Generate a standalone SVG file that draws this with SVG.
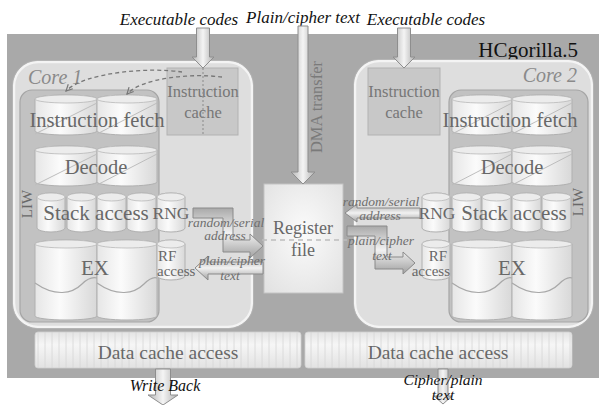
<svg xmlns="http://www.w3.org/2000/svg" width="599" height="405" viewBox="0 0 599 405">
<defs>
<linearGradient id="cyl" x1="0" y1="0" x2="1" y2="0">
<stop offset="0" stop-color="#e6e6e6"/><stop offset="0.4" stop-color="#fbfbfb"/><stop offset="1" stop-color="#d8d8d8"/>
</linearGradient>
<linearGradient id="arH" x1="0" y1="0" x2="0" y2="1">
<stop offset="0" stop-color="#a9a9a9"/><stop offset="0.5" stop-color="#f2f2f2"/><stop offset="1" stop-color="#a0a0a0"/>
</linearGradient>
<linearGradient id="arV" x1="0" y1="0" x2="1" y2="0">
<stop offset="0" stop-color="#b5b5b5"/><stop offset="0.5" stop-color="#f4f4f4"/><stop offset="1" stop-color="#b0b0b0"/>
</linearGradient>
<radialGradient id="reg" cx="0.5" cy="0.45" r="0.7">
<stop offset="0" stop-color="#fbfbfb"/><stop offset="1" stop-color="#e2e2e2"/>
</radialGradient>
<linearGradient id="bar" x1="0" y1="0" x2="0" y2="1">
<stop offset="0" stop-color="#e4e4e4"/><stop offset="0.35" stop-color="#f6f6f6"/><stop offset="1" stop-color="#e2e2e2"/>
</linearGradient>
<pattern id="stripes" width="7" height="10" patternUnits="userSpaceOnUse">
<line x1="3" y1="0" x2="3" y2="10" stroke="#d6d6d6" stroke-width="0.8"/>
</pattern>
<marker id="chev" viewBox="0 0 10 10" refX="9" refY="5" markerWidth="8" markerHeight="8" orient="auto" markerUnits="userSpaceOnUse">
<path d="M1,1 L9,5 L1,9" fill="none" stroke="#777" stroke-width="1.5"/>
</marker>
</defs>
<style>
.core{fill:#dedede;stroke:#f4f4f4;stroke-width:2.5}
.coreo{fill:none;stroke:#b4b4b4;stroke-width:0.8}
.liw{fill:#c2c2c2;stroke:#a5a5a5;stroke-width:1.2}
.icache{fill:#c8c8c8;stroke:#b2b2b2;stroke-width:1}
.cyl{fill:url(#cyl);stroke:#b0b0b0;stroke-width:1}
.cyltop{fill:#ececec;stroke:#b8b8b8;stroke-width:0.8}
.diag{stroke:#bdbdbd;stroke-width:1;fill:none}
.wave{stroke:#a8a8a8;stroke-width:1.2;fill:none}
.bigarrow{fill:url(#arV);stroke:#8e8e8e;stroke-width:1}
.harrow{fill:url(#arH);stroke:#8a8a8a;stroke-width:1}
.t{font-family:"Liberation Serif","Times New Roman",serif;fill:#686868}
.ti{font-family:"Liberation Serif","Times New Roman",serif;font-style:italic;fill:#111}
.lab{font-family:"Liberation Serif","Times New Roman",serif;font-style:italic;fill:#6e6e6e;font-size:13.5px}
.dash{stroke:#777;stroke-width:1.3;stroke-dasharray:4 3;fill:none}
</style>
<rect x="7" y="34" width="592" height="344" fill="#a9a9a9"/>
<text class="ti" x="179" y="25" font-size="17" text-anchor="middle">Executable codes</text>
<text class="ti" x="303" y="23" font-size="17" text-anchor="middle">Plain/cipher text</text>
<text class="ti" x="426" y="25" font-size="17" text-anchor="middle">Executable codes</text>
<text x="578" y="57" font-family="Liberation Serif,serif" font-size="21" fill="#111" text-anchor="end">HCgorilla.5</text>

<g id="core1">
<rect class="core" x="14" y="62" width="238" height="265" rx="24"/>
<rect class="coreo" x="12.5" y="60.5" width="241" height="268" rx="25"/>
<text class="ti" x="28" y="84" font-size="20" style="fill:#8a8a8a">Core 1</text>
<g id="icache1">
<rect class="icache" x="167" y="68" width="71" height="67"/>
<text class="t" x="203" y="97" font-size="16.5" text-anchor="middle" style="fill:#777">Instruction</text>
<text class="t" x="203" y="118" font-size="16.5" text-anchor="middle" style="fill:#777">cache</text>
</g>
<g id="liw1">
<rect class="liw" x="20" y="90" width="139" height="232" rx="12"/>
<text class="t" transform="translate(32,204) rotate(-90)" font-size="15" text-anchor="middle">LIW</text>
</g>
<g id="fetch1">
<path class="cyl" d="M35,99 A31,4 0 0 1 97,99 V131 A31,4 0 0 1 35,131 Z"/>
<path class="cyl" d="M97,99 A30,4 0 0 1 157,99 V131 A30,4 0 0 1 97,131 Z"/>
<ellipse class="cyltop" cx="66" cy="99" rx="31" ry="4"/><ellipse class="cyltop" cx="127" cy="99" rx="30" ry="4"/>
<path class="diag" d="M35,134 L97,103 M97,134 L157,103"/>
<text class="t" x="97" y="127" font-size="20.5" text-anchor="middle">Instruction fetch</text>
</g>
<g id="decode1">
<path class="cyl" d="M35,150 A31,4 0 0 1 97,150 V182 A31,4 0 0 1 35,182 Z"/>
<path class="cyl" d="M97,150 A30,4 0 0 1 157,150 V182 A30,4 0 0 1 97,182 Z"/>
<ellipse class="cyltop" cx="66" cy="150" rx="31" ry="4"/><ellipse class="cyltop" cx="127" cy="150" rx="30" ry="4"/>
<path class="diag" d="M35,185 L97,154 M97,185 L157,154"/>
<text class="t" x="96" y="174" font-size="20.5" text-anchor="middle">Decode</text>
</g>
<g id="stack1">
<path class="cyl" d="M37,197 A14,4 0 0 1 65,197 V228 A14,4 0 0 1 37,228 Z"/>
<path class="cyl" d="M67,197 A14.5,4 0 0 1 96,197 V228 A14.5,4 0 0 1 67,228 Z"/>
<path class="cyl" d="M97,197 A14.5,4 0 0 1 126,197 V228 A14.5,4 0 0 1 97,228 Z"/>
<path class="cyl" d="M127,197 A14.5,4 0 0 1 156,197 V228 A14.5,4 0 0 1 127,228 Z"/>
<ellipse class="cyltop" cx="51" cy="197" rx="14" ry="4"/><ellipse class="cyltop" cx="81.5" cy="197" rx="14.5" ry="4"/>
<ellipse class="cyltop" cx="111.5" cy="197" rx="14.5" ry="4"/><ellipse class="cyltop" cx="141.5" cy="197" rx="14.5" ry="4"/>
<text class="t" x="96" y="220" font-size="21" text-anchor="middle">Stack access</text>
</g>
<g id="ex1">
<path class="cyl" d="M35,244 A31,4 0 0 1 97,244 V316 A31,4 0 0 1 35,316 Z"/>
<path class="cyl" d="M97,244 A30,4 0 0 1 157,244 V316 A30,4 0 0 1 97,316 Z"/>
<ellipse class="cyltop" cx="66" cy="244" rx="31" ry="4"/><ellipse class="cyltop" cx="127" cy="244" rx="30" ry="4"/>
<path class="wave" d="M35,283 C55,297 72,294 82,284 C88,278 93,277 97,278 M97,283 C117,297 134,294 144,284 C150,278 154,277 157,278"/>
<text class="t" x="95" y="275" font-size="21" text-anchor="middle">EX</text>
</g>
<g id="rng1">
<path class="cyl" d="M157,197 A14,4 0 0 1 185,197 V228 A14,4 0 0 1 157,228 Z"/>
<ellipse class="cyltop" cx="171" cy="197" rx="14" ry="4"/>
<text class="t" x="171" y="219" font-size="17.5" text-anchor="middle">RNG</text>
</g>
<g id="rf1">
<path class="cyl" d="M157,244 A14,4 0 0 1 185,244 V276 A14,4 0 0 1 157,276 Z"/>
<ellipse class="cyltop" cx="171" cy="244" rx="14" ry="4"/>
<text class="t" x="158" y="261" font-size="15">RF</text>
<text class="t" x="157" y="276" font-size="15">access</text>
</g>
</g>

<g id="core2">
<rect class="core" x="355" y="61" width="237" height="266" rx="24"/>
<rect class="coreo" x="353.5" y="59.5" width="240" height="269" rx="25"/>
<text class="ti" x="577" y="82" font-size="20" text-anchor="end" style="fill:#8a8a8a">Core 2</text>
<g id="icache2">
<rect class="icache" x="368" y="68" width="72" height="67"/>
<text class="t" x="404" y="97" font-size="16.5" text-anchor="middle" style="fill:#777">Instruction</text>
<text class="t" x="404" y="118" font-size="16.5" text-anchor="middle" style="fill:#777">cache</text>
</g>
<g id="liw2">
<rect class="liw" x="449" y="90" width="139" height="232" rx="12"/>
<text class="t" transform="translate(583,202) rotate(-90)" font-size="15" text-anchor="middle">LIW</text>
</g>
<g id="fetch2">
<path class="cyl" d="M452,99 A30,4 0 0 1 512,99 V131 A30,4 0 0 1 452,131 Z"/>
<path class="cyl" d="M512,99 A30,4 0 0 1 572,99 V131 A30,4 0 0 1 512,131 Z"/>
<ellipse class="cyltop" cx="482" cy="99" rx="30" ry="4"/><ellipse class="cyltop" cx="542" cy="99" rx="30" ry="4"/>
<path class="diag" d="M452,134 L512,103 M512,134 L572,103"/>
<text class="t" x="510" y="127" font-size="20.5" text-anchor="middle">Instruction fetch</text>
</g>
<g id="decode2">
<path class="cyl" d="M452,150 A30,4 0 0 1 512,150 V182 A30,4 0 0 1 452,182 Z"/>
<path class="cyl" d="M512,150 A30,4 0 0 1 572,150 V182 A30,4 0 0 1 512,182 Z"/>
<ellipse class="cyltop" cx="482" cy="150" rx="30" ry="4"/><ellipse class="cyltop" cx="542" cy="150" rx="30" ry="4"/>
<path class="diag" d="M452,185 L512,154 M512,185 L572,154"/>
<text class="t" x="512" y="174" font-size="20.5" text-anchor="middle">Decode</text>
</g>
<g id="stack2">
<path class="cyl" d="M452,197 A14.5,4 0 0 1 481,197 V228 A14.5,4 0 0 1 452,228 Z"/>
<path class="cyl" d="M482,197 A14.5,4 0 0 1 511,197 V228 A14.5,4 0 0 1 482,228 Z"/>
<path class="cyl" d="M512,197 A14.5,4 0 0 1 541,197 V228 A14.5,4 0 0 1 512,228 Z"/>
<path class="cyl" d="M542,197 A14.5,4 0 0 1 571,197 V228 A14.5,4 0 0 1 542,228 Z"/>
<ellipse class="cyltop" cx="466.5" cy="197" rx="14.5" ry="4"/><ellipse class="cyltop" cx="496.5" cy="197" rx="14.5" ry="4"/>
<ellipse class="cyltop" cx="526.5" cy="197" rx="14.5" ry="4"/><ellipse class="cyltop" cx="556.5" cy="197" rx="14.5" ry="4"/>
<text class="t" x="514" y="220" font-size="21" text-anchor="middle">Stack access</text>
</g>
<g id="ex2">
<path class="cyl" d="M452,244 A30,4 0 0 1 512,244 V316 A30,4 0 0 1 452,316 Z"/>
<path class="cyl" d="M512,244 A30,4 0 0 1 572,244 V316 A30,4 0 0 1 512,316 Z"/>
<ellipse class="cyltop" cx="482" cy="244" rx="30" ry="4"/><ellipse class="cyltop" cx="542" cy="244" rx="30" ry="4"/>
<path class="wave" d="M452,283 C472,297 489,294 499,284 C505,278 509,277 512,278 M512,283 C532,297 549,294 559,284 C565,278 569,277 572,278"/>
<text class="t" x="512" y="275" font-size="21" text-anchor="middle">EX</text>
</g>
<g id="rng2">
<path class="cyl" d="M422,197 A14,4 0 0 1 450,197 V228 A14,4 0 0 1 422,228 Z"/>
<ellipse class="cyltop" cx="436" cy="197" rx="14" ry="4"/>
<text class="t" x="437" y="219" font-size="17.5" text-anchor="middle">RNG</text>
</g>
<g id="rf2">
<path class="cyl" d="M422,244 A14,4 0 0 1 450,244 V276 A14,4 0 0 1 422,276 Z"/>
<ellipse class="cyltop" cx="436" cy="244" rx="14" ry="4"/>
<text class="t" x="447" y="261" font-size="15" text-anchor="end">RF</text>
<text class="t" x="450" y="276" font-size="15" text-anchor="end">access</text>
</g>
</g>

<g id="regfile">
<rect x="264" y="184" width="79" height="109" fill="url(#reg)" stroke="#c4c4c4" stroke-width="1"/>
<text class="t" x="303" y="234" font-size="18" text-anchor="middle">Register</text>
<text class="t" x="303" y="256" font-size="18" text-anchor="middle">file</text>
</g>

<g id="dcache1">
<rect x="35" y="332" width="266" height="36" rx="3" fill="url(#bar)"/>
<rect x="35" y="332" width="266" height="36" rx="3" fill="url(#stripes)" stroke="#d0d0d0" stroke-width="0.8"/>
<text class="t" x="168" y="359" font-size="19.5" text-anchor="middle">Data cache access</text>
</g>
<g id="dcache2">
<rect x="305" y="332" width="267" height="36" rx="3" fill="url(#bar)"/>
<rect x="305" y="332" width="267" height="36" rx="3" fill="url(#stripes)" stroke="#d0d0d0" stroke-width="0.8"/>
<text class="t" x="438" y="359" font-size="19.5" text-anchor="middle">Data cache access</text>
</g>

<g id="connectors">
<path class="bigarrow" d="M196.5,28 H209.5 V57 H214 L203,68 L192,57 H196.5 Z"/>
<path class="bigarrow" d="M397.5,28 H410.5 V57 H415 L404,68 L393,57 H397.5 Z"/>
<path class="bigarrow" d="M298,26 H308 V172 H315 L303,184 L291,172 H298 Z"/>
<text transform="translate(322,107) rotate(-90)" font-family="Liberation Serif,serif" font-size="16.5" fill="#7a7a7a" text-anchor="middle">DMA transfer</text>
<line x1="203" y1="68" x2="203" y2="135" stroke="#8a8a8a" stroke-width="1" stroke-dasharray="2 2"/>
<path class="dash" d="M182,72 C150,67 85,72 66,91" marker-end="url(#chev)"/>
<path class="dash" d="M222,77 C190,73 142,78 127,94" marker-end="url(#chev)"/>
<line x1="262" y1="240" x2="347" y2="240" stroke="#bdbdbd" stroke-width="1.3" stroke-dasharray="5 4"/>
<path class="harrow" d="M193,208 H233 V240 H250 V234 L263,246 L250,258 V252 H223 V218 H193 Z"/>
<path class="harrow" d="M263,262 H208 V256 L195,268 L208,280 V274 H263 Z"/>
<path class="harrow" d="M420,208 H357 V204 L345,213 L357,222 V218 H420 Z"/>
<path class="harrow" d="M347,226 H387 V257 H403 V252 L415,263 L403,274 V269 H375 V236 H347 Z"/>
<text class="lab" x="226" y="227" text-anchor="middle">random/serial</text>
<text class="lab" x="225" y="240" text-anchor="middle">address</text>
<text class="lab" x="232" y="265" text-anchor="middle">plain/cipher</text>
<text class="lab" x="230" y="280" text-anchor="middle">text</text>
<text class="lab" x="381" y="206" text-anchor="middle">random/serial</text>
<text class="lab" x="380" y="220" text-anchor="middle">address</text>
<text class="lab" x="381" y="245" text-anchor="middle">plain/cipher</text>
<text class="lab" x="382" y="260" text-anchor="middle">text</text>
<path class="bigarrow" d="M155.5,369 H170.5 V395 H178 L163,405 L148,395 H155.5 Z"/>
<path class="bigarrow" d="M438,369 H448 V396 H452 L443,404 L434,396 H438 Z"/>
<text class="ti" x="165" y="391" font-size="16" text-anchor="middle">Write Back</text>
<text class="ti" x="443" y="385" font-size="15.5" text-anchor="middle">Cipher/plain</text>
<text class="ti" x="443" y="400" font-size="15.5" text-anchor="middle">text</text>
</g>
</svg>
